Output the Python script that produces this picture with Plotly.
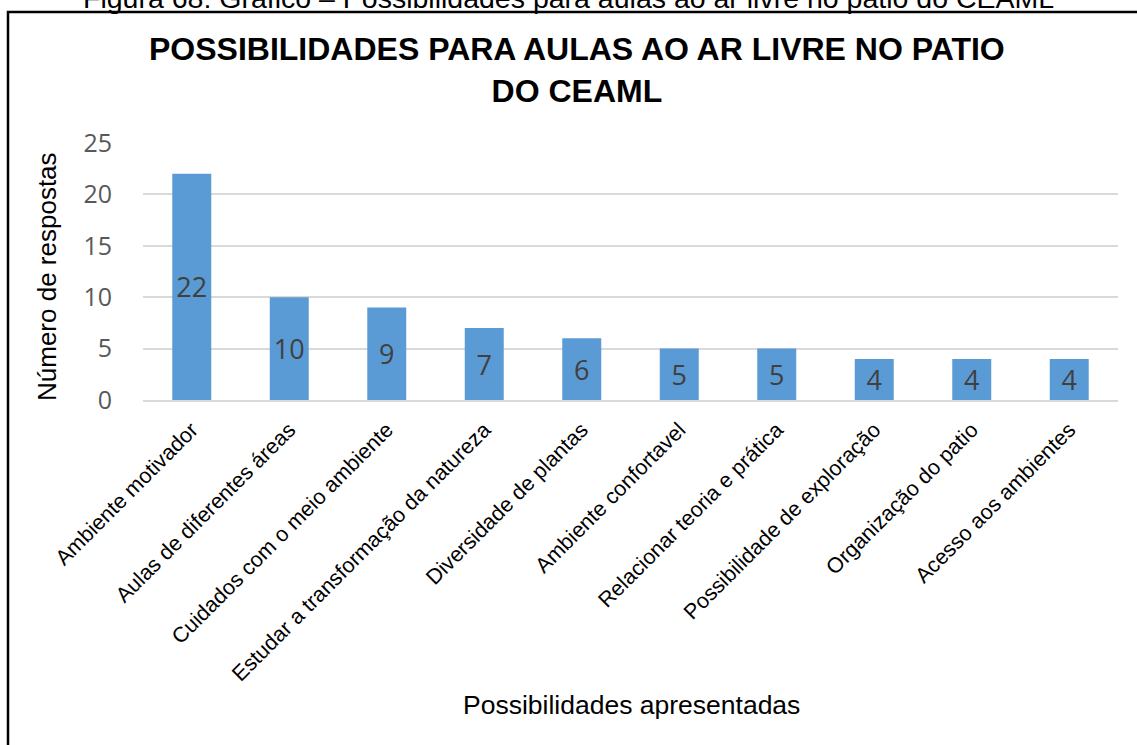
import plotly.graph_objects as go

# Survey answers: possibilities for outdoor classes in the CEAML courtyard
categorias = [
    "Ambiente motivador",
    "Aulas de diferentes áreas",
    "Cuidados com o meio ambiente",
    "Estudar a transformação da natureza",
    "Diversidade de plantas",
    "Ambiente confortavel",
    "Relacionar teoria e prática",
    "Possibilidade de exploração",
    "Organização do patio",
    "Acesso aos ambientes",
]
respostas = [22, 10, 9, 7, 6, 5, 5, 4, 4, 4]
y_ticks = [0, 5, 10, 15, 20, 25]

W, H = 1137, 745
L, R, T, B = 143, 19, 143, 345
PW, PH = W - L - R, H - T - B


def px_x(px):
    return (px - L) / PW


def px_y(py):
    return (H - B - py) / PH


fig = go.Figure(
    go.Bar(
        x=categorias,
        y=respostas,
        marker=dict(color="#5B9BD5", line=dict(width=0)),
        text=[str(v) for v in respostas],
        textposition="inside",
        insidetextanchor="middle",
        textfont=dict(family="Open Sans, sans-serif", size=27, color="#404040"),
        textangle=0,
        hoverinfo="skip",
    )
)

fig.update_layout(
    width=W,
    height=H,
    margin=dict(l=L, r=R, t=T, b=B),
    paper_bgcolor="white",
    plot_bgcolor="white",
    bargap=0.6,
    showlegend=False,
    uniformtext=dict(minsize=27, mode="show"),
    font=dict(family="Liberation Sans, Arial, sans-serif", color="black"),
)

fig.update_yaxes(
    range=[0, 25],
    tickvals=y_ticks,
    ticktext=[str(v) for v in y_ticks],
    showgrid=True,
    gridcolor="#D9D9D9",
    gridwidth=1.5,
    zeroline=False,
    showline=False,
    ticks="",
    ticklabelstandoff=30,
    tickfont=dict(family="Open Sans, sans-serif", size=25, color="#595959"),
)

fig.update_xaxes(
    tickangle=-45,
    showgrid=False,
    zeroline=False,
    showline=True,
    linecolor="#D9D9D9",
    linewidth=1.5,
    ticks="",
    ticklabelstandoff=7,
    tickfont=dict(family="Liberation Sans, Arial, sans-serif", size=21.5, color="black"),
)

annotations = [
    # figure caption above the frame
    dict(
        text="Figura 68: Gráfico – Possibilidades para aulas ao ar livre no patio do CEAML",
        x=px_x(568), y=px_y(-2), xref="paper", yref="paper",
        xanchor="center", yanchor="middle", showarrow=False,
        font=dict(family="Liberation Sans, Arial, sans-serif", size=28.5, color="black"),
    ),
    # chart title
    dict(
        text="<b>POSSIBILIDADES PARA AULAS AO AR LIVRE NO PATIO<br>DO CEAML</b>",
        x=px_x(577), y=px_y(70), xref="paper", yref="paper",
        xanchor="center", yanchor="middle", showarrow=False,
        font=dict(family="Liberation Sans, Arial, sans-serif", size=32, color="black"),
    ),
    # y-axis title
    dict(
        text="Número de respostas",
        x=px_x(47), y=px_y(277), xref="paper", yref="paper",
        xanchor="center", yanchor="middle", showarrow=False, textangle=-90,
        font=dict(family="Liberation Sans, Arial, sans-serif", size=26, color="black"),
    ),
    # x-axis title
    dict(
        text="Possibilidades apresentadas",
        x=px_x(631), y=px_y(705), xref="paper", yref="paper",
        xanchor="center", yanchor="middle", showarrow=False,
        font=dict(family="Liberation Sans, Arial, sans-serif", size=26.5, color="black"),
    ),
]
fig.update_layout(annotations=annotations)

# frame around the chart
fig.add_shape(
    type="rect", xref="paper", yref="paper",
    x0=px_x(8), x1=px_x(1160), y0=px_y(770), y1=px_y(12),
    line=dict(color="black", width=2.5), fillcolor="rgba(0,0,0,0)",
    layer="above",
)

fig.write_html("out.html")
